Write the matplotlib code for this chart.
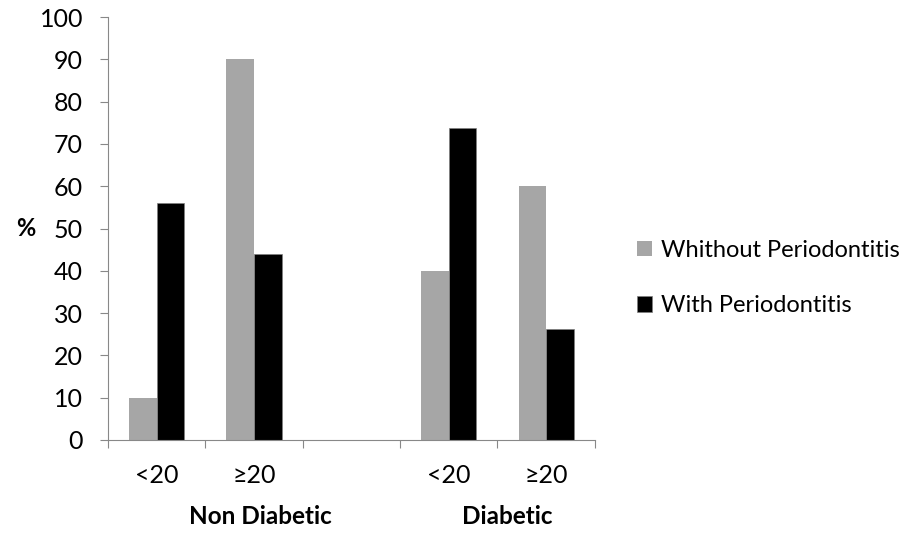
import numpy as np
import matplotlib.pyplot as plt

plt.rcParams['font.family'] = ['Lato', 'DejaVu Sans']

categories = ["<20", "\u226520", "", "<20", "\u226520"]
without_perio = [10, 90, np.nan, 40, 60]
with_perio = [56, 44, np.nan, 73.7, 26.3]
groups = ["Non Diabetic", "Diabetic"]
group_pos = [1.06, 3.6]

fig = plt.figure(figsize=(9.1, 5.33), dpi=100)
ax = fig.add_axes([0.1187, 0.1745, 0.535, 0.7935])

x = np.arange(len(categories))
w = 0.284
ax.bar(x - w / 2, without_perio, w, color="#a6a6a6", label="Whithout Periodontitis")
ax.bar(x + w / 2, with_perio, w, color="black", edgecolor="#808080", linewidth=0.5,
       label="With Periodontitis")

ax.set_xlim(-0.5, len(categories) - 0.5)
ax.set_ylim(0, 100)
ax.set_yticks(range(0, 101, 10))
ax.tick_params(axis="y", labelsize=18, length=6, color="#888888", direction="out", pad=12)
ax.set_xticks(np.arange(-0.5, len(categories), 1))
ax.set_xticklabels([])
ax.tick_params(axis="x", length=6, color="#888888", direction="out")
for i, c in enumerate(categories):
    ax.text(i, -8.3, c, ha="center", va="center", fontsize=18)
for g, p in zip(groups, group_pos):
    ax.text(p, -18.0, g, ha="center", va="center", fontsize=17.5, fontweight="bold")

for s in ["top", "right"]:
    ax.spines[s].set_visible(False)
for s in ["left", "bottom"]:
    ax.spines[s].set_color("#888888")

fig.text(26 / 910, 1 - 228 / 533, "%", ha="center", va="center", fontsize=17, fontweight="bold")

leg = fig.legend(loc="center left", bbox_to_anchor=(637 / 910, 1 - 278 / 533), frameon=False,
                 fontsize=17, handlelength=0.65, handleheight=0.65, handletextpad=0.35,
                 labelspacing=1.45, borderpad=0, borderaxespad=0)

fig.savefig("out.png", dpi=100)
